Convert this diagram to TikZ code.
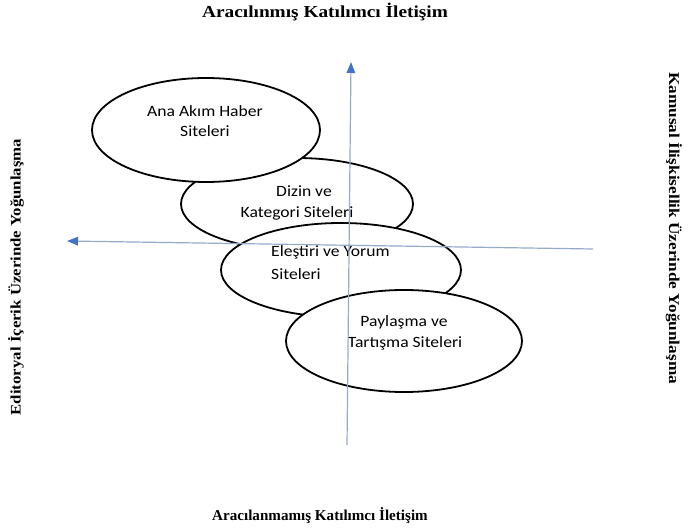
\documentclass[tikz,border=0pt]{standalone}
\usepackage{fontspec}
\usetikzlibrary{arrows.meta,shapes.geometric}
\newfontfamily\ellfont[FakeStretch=1.12]{Carlito}
\newfontfamily\serfont[FakeStretch=1.15]{Liberation Serif}
\newfontfamily\serfontb[FakeStretch=1.0]{Liberation Serif}
\definecolor{axisline}{RGB}{150,170,202}
\definecolor{axishead}{RGB}{68,114,196}
\tikzset{
  x=1pt,y=-1pt,
  ellbox/.style={ellipse,draw=black,fill=white,line width=1.8pt,inner sep=0pt},
  elltext/.style={font=\ellfont\fontsize{15.7}{18}\selectfont,inner sep=0pt,anchor=base,text=black},
  axisarrow/.style={draw=axisline,line width=1.2pt,-{Triangle[length=11pt,width=8.5pt,color=axishead]}},
  sidelabel/.style={font=\serfont\bfseries\fontsize{14.6}{17}\selectfont,inner sep=0pt}
}
\begin{document}
\begin{tikzpicture}
\useasboundingbox[fill=white] (0,0) rectangle (689,529);
% ellipses (drawing order gives overlaps)
\node[ellbox,minimum width=232pt,minimum height=92pt] (e2) at (297,204) {};
\node[ellbox,minimum width=228pt,minimum height=104pt] (e1) at (206,130) {};
\node[ellbox,minimum width=240pt,minimum height=94pt] (e3) at (341,270) {};
\node[ellbox,minimum width=236pt,minimum height=102pt] (e4) at (404,341) {};
% texts
\node[elltext] (t1a) at (205,117) {Ana Akım Haber};
\node[elltext] (t1b) at (205,137) {Siteleri};
\node[elltext] (t2a) at (304,197) {Dizin ve};
\node[elltext] (t2b) at (297,218) {Kategori Siteleri};
\node[elltext,anchor=base west] (t3a) at (271,257) {Eleştiri ve Yorum};
\node[elltext,anchor=base west] (t3b) at (271,280) {Siteleri};
\node[elltext] (t4a) at (404,327) {Paylaşma ve};
\node[elltext] (t4b) at (405,348) {Tartışma Siteleri};
% axes
\coordinate (vb) at (347,445);
\coordinate (vt) at (351,62);
\coordinate (hr) at (593,249);
\coordinate (hl) at (67,241);
\draw[axisarrow] (vb) -- (vt);
\draw[axisarrow] (hr) -- (hl);
% outer labels
\node[font=\serfont\bfseries\fontsize{16.8}{20}\selectfont,inner sep=0pt,anchor=base] (top) at (325,18) {Aracılınmış Katılımcı İletişim};
\node[font=\serfontb\bfseries\fontsize{15.1}{18}\selectfont,inner sep=0pt,anchor=base] (bot) at (320,521) {Aracılanmamış Katılımcı İletişim};
\node[sidelabel,rotate=90] (left) at (16,277) {Editoryal İçerik Üzerinde Yoğunlaşma};
\node[sidelabel,rotate=-90,font=\serfont\bfseries\fontsize{15}{18}\selectfont] (right) at (674,228) {Kamusal İlişkisellik Üzerinde Yoğunlaşma};
\end{tikzpicture}
\end{document}
